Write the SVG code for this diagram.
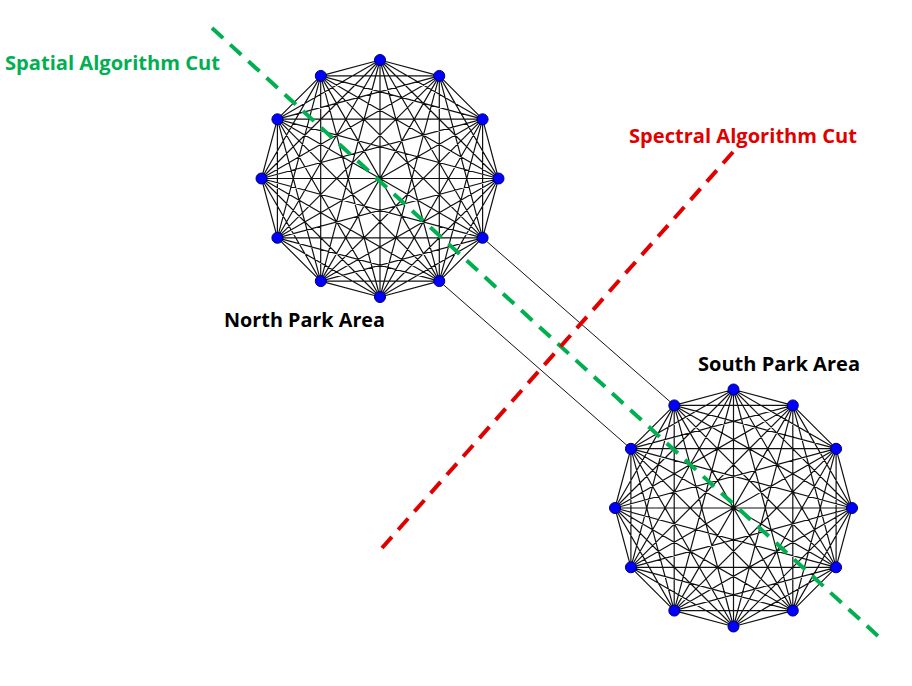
<svg xmlns="http://www.w3.org/2000/svg" xmlns:xlink="http://www.w3.org/1999/xlink" width="912" height="686" viewBox="0 0 912 686">
<style>
.edge{fill:none;stroke:#111;stroke-width:1.2;stroke-linejoin:round}
.bridge{fill:none;stroke:#111;stroke-width:1}
.cut{fill:none;stroke-width:4}
.node{fill:#0000ff;stroke:#00006a;stroke-width:1}
.lbl{font-family:"Open Sans","Noto Sans",sans-serif;font-weight:bold;font-size:20px}
</style>
<defs>
<path id="k12" d="M0,-118.5 L59.3,-102.6 L102.6,-59.3 L118.5,0 L102.6,59.3 L59.3,102.6 L0,118.5 L-59.3,102.6 L-102.6,59.3 L-118.5,0 L-102.6,-59.3 L-59.3,-102.6 Z
M0,-118.5 L102.6,-59.3 L102.6,59.3 L0,118.5 L-102.6,59.3 L-102.6,-59.3 Z
M59.3,-102.6 L118.5,0 L59.3,102.6 L-59.3,102.6 L-118.5,0 L-59.3,-102.6 Z
M0,-118.5 L118.5,0 L0,118.5 L-118.5,0 Z
M59.3,-102.6 L102.6,59.3 L-59.3,102.6 L-102.6,-59.3 Z
M102.6,-59.3 L59.3,102.6 L-102.6,59.3 L-59.3,-102.6 Z
M0,-118.5 L102.6,59.3 L-102.6,59.3 Z
M59.3,-102.6 L59.3,102.6 L-118.5,0 Z
M102.6,-59.3 L0,118.5 L-102.6,-59.3 Z
M118.5,0 L-59.3,102.6 L-59.3,-102.6 Z
M0,-118.5 L59.3,102.6 L-102.6,-59.3 L118.5,0 L-102.6,59.3 L59.3,-102.6 L0,118.5 L-59.3,-102.6 L102.6,59.3 L-118.5,0 L102.6,-59.3 L-59.3,102.6 Z
M0,-118.5 L0,118.5 M59.3,-102.6 L-59.3,102.6 M102.6,-59.3 L-102.6,59.3 M118.5,0 L-118.5,0 M102.6,59.3 L-102.6,-59.3 M59.3,102.6 L-59.3,-102.6"/>
</defs>
<rect width="912" height="686" fill="#ffffff"/>
<g id="connectors">
<use xlink:href="#k12" href="#k12" class="edge" transform="translate(380,178.5)"/>
<use xlink:href="#k12" href="#k12" class="edge" transform="translate(733.5,508)"/>
<line class="bridge" x1="482.6" y1="237.8" x2="674.3" y2="405.4"/>
<line class="bridge" x1="439.3" y1="281.1" x2="630.9" y2="448.8"/>
</g>
<g id="cuts">
<line class="cut" stroke="#00b050" stroke-dasharray="15 9.63" x1="212" y1="28" x2="878" y2="636"/>
<line class="cut" stroke="#e00000" stroke-dasharray="15 9.49" x1="733" y1="152" x2="382" y2="548"/>
</g>
<g id="north-nodes">
<g id="n0"><circle class="node" cx="380" cy="60" r="5.5"/></g>
<g id="n1"><circle class="node" cx="439.3" cy="75.9" r="5.5"/></g>
<g id="n2"><circle class="node" cx="482.6" cy="119.3" r="5.5"/></g>
<g id="n3"><circle class="node" cx="498.5" cy="178.5" r="5.5"/></g>
<g id="n4"><circle class="node" cx="482.6" cy="237.8" r="5.5"/></g>
<g id="n5"><circle class="node" cx="439.3" cy="281.1" r="5.5"/></g>
<g id="n6"><circle class="node" cx="380" cy="297" r="5.5"/></g>
<g id="n7"><circle class="node" cx="320.8" cy="281.1" r="5.5"/></g>
<g id="n8"><circle class="node" cx="277.4" cy="237.8" r="5.5"/></g>
<g id="n9"><circle class="node" cx="261.5" cy="178.5" r="5.5"/></g>
<g id="n10"><circle class="node" cx="277.4" cy="119.3" r="5.5"/></g>
<g id="n11"><circle class="node" cx="320.8" cy="75.9" r="5.5"/></g>
</g>
<g id="south-nodes">
<g id="s0"><circle class="node" cx="733.5" cy="389.5" r="5.5"/></g>
<g id="s1"><circle class="node" cx="792.8" cy="405.4" r="5.5"/></g>
<g id="s2"><circle class="node" cx="836.1" cy="448.8" r="5.5"/></g>
<g id="s3"><circle class="node" cx="852" cy="508" r="5.5"/></g>
<g id="s4"><circle class="node" cx="836.1" cy="567.3" r="5.5"/></g>
<g id="s5"><circle class="node" cx="792.8" cy="610.6" r="5.5"/></g>
<g id="s6"><circle class="node" cx="733.5" cy="626.5" r="5.5"/></g>
<g id="s7"><circle class="node" cx="674.3" cy="610.6" r="5.5"/></g>
<g id="s8"><circle class="node" cx="630.9" cy="567.3" r="5.5"/></g>
<g id="s9"><circle class="node" cx="615" cy="508" r="5.5"/></g>
<g id="s10"><circle class="node" cx="630.9" cy="448.8" r="5.5"/></g>
<g id="s11"><circle class="node" cx="674.3" cy="405.4" r="5.5"/></g>
</g>
<g id="labels">
<text class="lbl" x="5" y="70" fill="#00b050" font-size="22" textLength="215" lengthAdjust="spacingAndGlyphs">Spatial Algorithm Cut</text>
<text class="lbl" x="629" y="143" fill="#e00000" font-size="22" textLength="228" lengthAdjust="spacingAndGlyphs">Spectral Algorithm Cut</text>
<text class="lbl" x="224" y="327" fill="#000000" textLength="161" lengthAdjust="spacingAndGlyphs">North Park Area</text>
<text class="lbl" x="698" y="371" fill="#000000" textLength="162" lengthAdjust="spacingAndGlyphs">South Park Area</text>
</g>
</svg>
